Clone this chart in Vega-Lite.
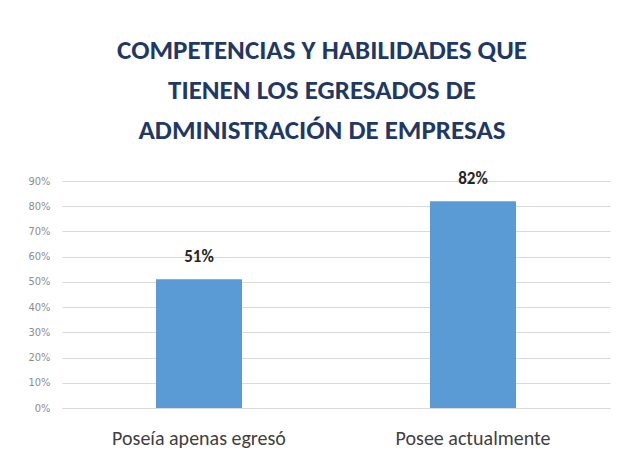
{
  "$schema": "https://vega.github.io/schema/vega-lite/v6.json",
  "width": 548,
  "height": 227,
  "autosize": {"type": "none"},
  "padding": {"left": 62, "top": 181, "right": 8, "bottom": 54},
  "background": "white",
  "title": {
    "text": ["COMPETENCIAS Y HABILIDADES QUE", "TIENEN LOS EGRESADOS DE", "ADMINISTRACIÓN DE EMPRESAS"],
    "font": "Carlito, Lato, sans-serif",
    "fontSize": 27,
    "fontWeight": "bold",
    "color": "#1F3864",
    "lineHeight": 40,
    "anchor": "middle",
    "baseline": "alphabetic",
    "dx": -14,
    "offset": 4
  },
  "data": {
    "values": [
      {"categoria": "Poseía apenas egresó", "valor": 0.51, "etiqueta": "51%"},
      {"categoria": "Posee actualmente", "valor": 0.82, "etiqueta": "82%"}
    ]
  },
  "encoding": {
    "x": {
      "field": "categoria",
      "type": "nominal",
      "sort": null,
      "scale": {"paddingInner": 0.686, "paddingOuter": 0.343},
      "axis": {
        "title": null,
        "labelAngle": 0,
        "labelFont": "Carlito, Lato, sans-serif",
        "labelFontSize": 20,
        "labelColor": "#404040",
        "labelPadding": 20,
        "ticks": false,
        "domainColor": "#d9d9d9",
        "domainWidth": 1
      }
    },
    "y": {
      "field": "valor",
      "type": "quantitative",
      "scale": {"domain": [0, 0.9], "nice": false},
      "axis": {
        "title": null,
        "format": ".0%",
        "values": [0, 0.1, 0.2, 0.3, 0.4, 0.5, 0.6, 0.7, 0.8, 0.9],
        "labelFont": "DejaVu Sans Condensed, Lato, sans-serif",
        "labelFontSize": 11,
        "labelColor": "#8c8c8c",
        "labelPadding": 12,
        "ticks": false,
        "domain": false,
        "gridColor": "#d9d9d9",
        "gridWidth": 1
      }
    }
  },
  "layer": [
    {"mark": {"type": "bar", "color": "#5B9BD5"}},
    {
      "mark": {
        "type": "text",
        "dy": -17,
        "baseline": "alphabetic",
        "font": "Carlito, Lato, sans-serif",
        "fontSize": 17,
        "fontWeight": "bold",
        "color": "#262626"
      },
      "encoding": {"text": {"field": "etiqueta"}}
    }
  ],
  "config": {"view": {"stroke": null}}
}
